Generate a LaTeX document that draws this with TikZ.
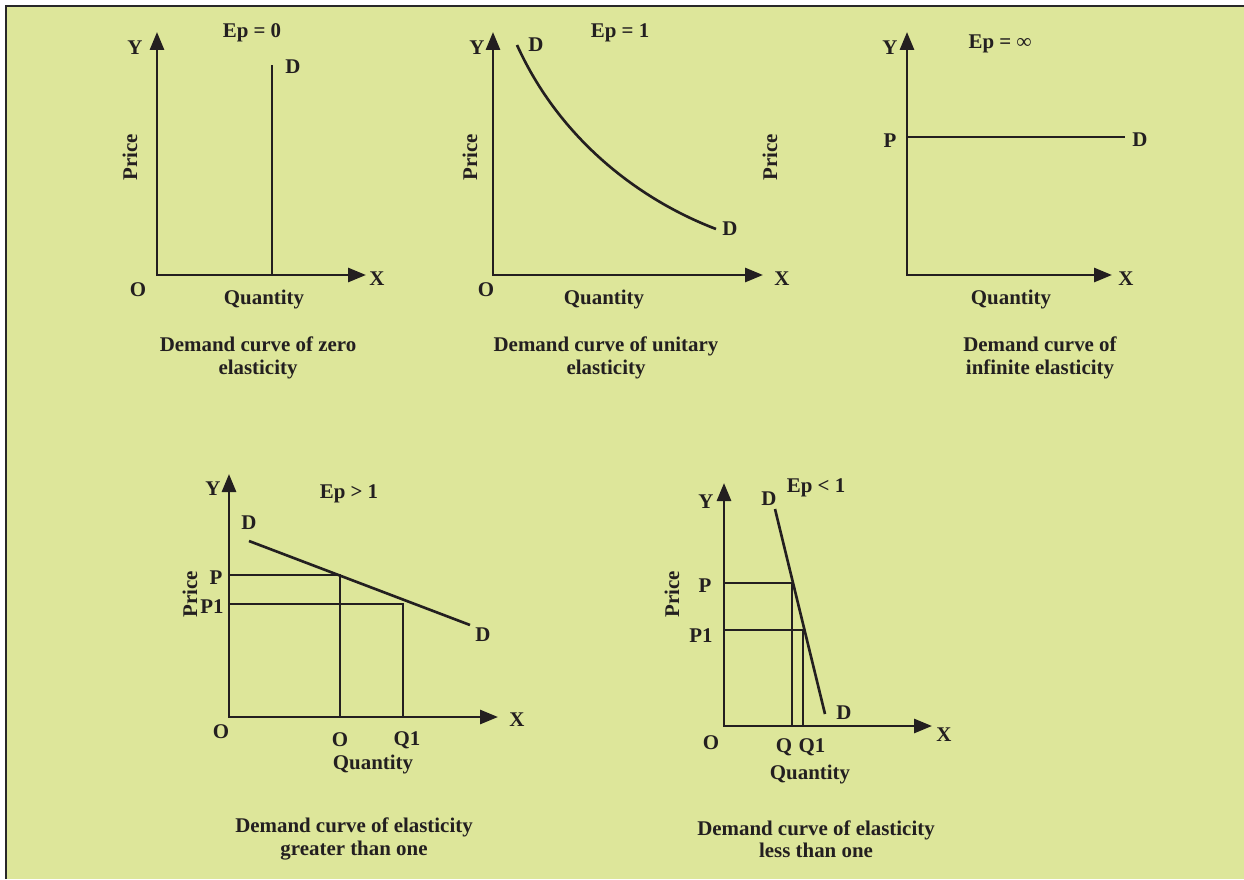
\documentclass[tikz,border=0pt]{standalone}
\usepackage{fontspec}
\setmainfont{Liberation Serif}
\usetikzlibrary{arrows.meta}
\definecolor{bg}{RGB}{221,230,154}
\definecolor{ink}{RGB}{35,31,32}
\definecolor{frame}{RGB}{40,40,40}
\tikzset{
  axis/.style={line width=1.6pt, draw=ink, line join=miter,
    {Triangle[length=0.36cm,width=0.28cm]}-{Triangle[length=0.36cm,width=0.28cm]}},
  dline/.style={line width=1.5pt, draw=ink},
  basetxt/.style={font=\fontsize{11.9}{12.6}\selectfont\bfseries, text=ink, inner sep=0pt},
  lbl/.style={basetxt, yshift=-1.1pt},
  captxt/.style={lbl, align=center},
  rotlbl/.style={basetxt, rotate=90},
}
\begin{document}
\begin{tikzpicture}[x=0.02cm,y=-0.02cm]
\useasboundingbox (0,0) rectangle (1244,879);
\fill[white] (0,0) rectangle (1244,879);
\fill[bg] (6,6) rectangle (1244,879);
\draw[frame, line width=1.4pt] (6,879) -- (6,6) -- (1244,6);

% ---------- Panel 1: zero elasticity ----------
\coordinate (o1) at (157,275);
\coordinate (y1) at (157,32);
\coordinate (x1) at (366,275);
\draw[axis] (y1) -- (o1) -- (x1);
\coordinate (d1t) at (272,65);
\coordinate (d1b) at (272,275);
\draw[dline] (d1t) -- (d1b);
\node[lbl] (Y1) at (135,46) {Y};
\node[lbl] (O1) at (138,288) {O};
\node[lbl] (X1) at (377,277) {X};
\node[lbl] (E1) at (252,31) {Ep = 0};
\node[lbl] (D1) at (293,65) {D};
\node[rotlbl] (Pr1) at (130,157) {Price};
\node[lbl] (Q1l) at (264,298) {Quantity};
\node[captxt] (C1) at (258,356) {Demand curve of zero\\elasticity};

% ---------- Panel 2: unitary elasticity ----------
\coordinate (o2) at (493,275);
\coordinate (y2) at (493,32);
\coordinate (x2) at (763,275);
\draw[axis] (y2) -- (o2) -- (x2);
\coordinate (d2t) at (517,45);
\coordinate (d2b) at (716,229);
\draw[dline] (d2t) .. controls (560,140) and (640,200) .. (d2b);
\node[lbl] (Y2) at (477,46) {Y};
\node[lbl] (O2) at (486,288) {O};
\node[lbl] (X2) at (782,277) {X};
\node[lbl] (E2) at (620,31) {Ep = 1};
\node[lbl] (D2a) at (536,43) {D};
\node[lbl] (D2b) at (730,227) {D};
\node[rotlbl] (Pr2) at (470,157) {Price};
\node[lbl] (Q2l) at (604,298) {Quantity};
\node[captxt] (C2) at (606,356) {Demand curve of unitary\\elasticity};

% ---------- Panel 3: infinite elasticity ----------
\coordinate (o3) at (907,275);
\coordinate (y3) at (907,32);
\coordinate (x3) at (1112,275);
\draw[axis] (y3) -- (o3) -- (x3);
\coordinate (d3l) at (907,137);
\coordinate (d3r) at (1125,137);
\draw[dline] (d3l) -- (d3r);
\node[lbl] (Y3) at (890,46) {Y};
\node[lbl] (X3) at (1126,277) {X};
\node[lbl] (E3) at (1000,42) {Ep = ∞};
\node[lbl] (P3) at (890,139) {P};
\node[lbl] (D3) at (1140,138) {D};
\node[rotlbl] (Pr3) at (770,157) {Price};
\node[lbl] (Q3l) at (1011,298) {Quantity};
\node[captxt] (C3) at (1040,356) {Demand curve of\\infinite elasticity};

% ---------- Panel 4: elasticity greater than one ----------
\coordinate (o4) at (229,717);
\coordinate (y4) at (229,474);
\coordinate (x4) at (498,717);
\draw[axis] (y4) -- (o4) -- (x4);
\coordinate (d4t) at (249,541);
\coordinate (d4b) at (470,625);
\draw[dline] (d4t) -- (d4b);
\coordinate (p4) at (229,575);
\coordinate (pq4) at (340,575);
\coordinate (q4) at (340,717);
\draw[dline] (p4) -- (pq4) -- (q4);
\coordinate (p14) at (229,604);
\coordinate (pq14) at (403,604);
\coordinate (q14) at (403,717);
\draw[dline] (p14) -- (pq14) -- (q14);
\node[lbl] (Y4) at (213,487) {Y};
\node[lbl] (E4) at (349,492) {Ep > 1};
\node[lbl] (D4a) at (249,521) {D};
\node[lbl] (D4b) at (483,633) {D};
\node[lbl] (P4) at (216,576) {P};
\node[lbl] (P14) at (212,605) {P1};
\node[rotlbl] (Pr4) at (190,594) {Price};
\node[lbl] (O4) at (221,730) {O};
\node[lbl] (O4b) at (340,738) {O};
\node[lbl] (Q14) at (407,738) {Q1};
\node[lbl] (X4) at (517,718) {X};
\node[lbl] (Q4l) at (373,763) {Quantity};
\node[captxt] (C4) at (354,837) {Demand curve of elasticity\\greater than one};

% ---------- Panel 5: elasticity less than one ----------
\coordinate (o5) at (724,726);
\coordinate (y5) at (724,483);
\coordinate (x5) at (932,726);
\draw[axis] (y5) -- (o5) -- (x5);
\coordinate (d5t) at (775,509);
\coordinate (d5b) at (825,714);
\draw[dline] (d5t) -- (d5b);
\coordinate (p5) at (724,583);
\coordinate (pq5) at (792,583);
\coordinate (q5) at (792,726);
\draw[dline] (p5) -- (pq5) -- (q5);
\coordinate (p15) at (724,630);
\coordinate (pq15) at (803,630);
\coordinate (q15) at (803,726);
\draw[dline] (p15) -- (pq15) -- (q15);
\node[lbl] (Y5) at (706,500) {Y};
\node[lbl] (D5a) at (769,497) {D};
\node[lbl] (E5) at (816,486) {Ep < 1};
\node[lbl] (D5b) at (844,711) {D};
\node[lbl] (P5) at (705,584) {P};
\node[lbl] (P15) at (701,634) {P1};
\node[rotlbl] (Pr5) at (672,594) {Price};
\node[lbl] (O5) at (711,741) {O};
\node[lbl] (Q5) at (784,745) {Q};
\node[lbl] (Q15) at (812,745) {Q1};
\node[lbl] (X5) at (944,733) {X};
\node[lbl] (Q5l) at (810,773) {Quantity};
\node[captxt] (C5) at (816,837) {Demand curve of elasticity\\less than one};
\end{tikzpicture}
\end{document}
